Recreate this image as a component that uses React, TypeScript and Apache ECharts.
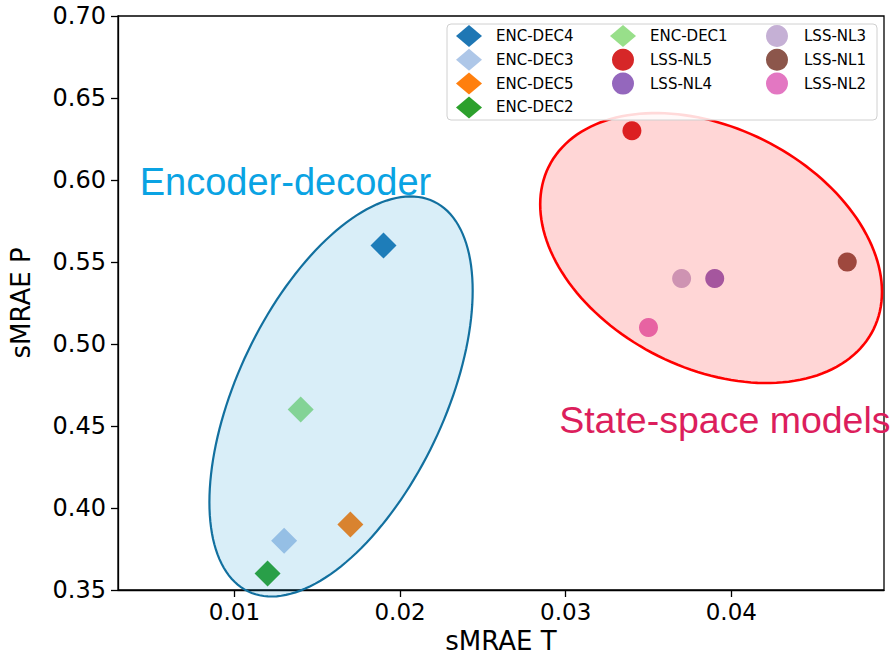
import React, { useEffect, useRef } from 'react';
import * as echarts from 'echarts';

// ---- data ----
const modelNames = ['ENC-DEC4', 'ENC-DEC3', 'ENC-DEC5', 'ENC-DEC2', 'ENC-DEC1', 'LSS-NL5', 'LSS-NL4', 'LSS-NL3', 'LSS-NL1', 'LSS-NL2'];
const smraeT = [0.019, 0.013, 0.017, 0.012, 0.014, 0.034, 0.039, 0.037, 0.047, 0.035];
const smraeP = [0.56, 0.38, 0.39, 0.36, 0.46, 0.63, 0.54, 0.54, 0.55, 0.51];
const modelFamily = ['enc', 'enc', 'enc', 'enc', 'enc', 'lss', 'lss', 'lss', 'lss', 'lss'];
const xTickValues = [0.01, 0.02, 0.03, 0.04];
const yTickValues = [0.35, 0.4, 0.45, 0.5, 0.55, 0.6, 0.65, 0.7];
const legendColumns = [
  ['ENC-DEC4', 'ENC-DEC3', 'ENC-DEC5', 'ENC-DEC2'],
  ['ENC-DEC1', 'LSS-NL5', 'LSS-NL4'],
  ['LSS-NL3', 'LSS-NL1', 'LSS-NL2'],
];

// ---- styles ----
const modelColors = ['#1f77b4', '#aec7e8', '#ff7f0e', '#2ca02c', '#98df8a', '#d62728', '#9467bd', '#c5b0d5', '#8c564b', '#e377c2'];
const familySymbol: Record<string, string> = { enc: 'diamond', lss: 'circle' };
const familySize: Record<string, number> = { enc: 26, lss: 19 };

// group regions (ellipse = centre + two conjugate semi-diameters, in data units)
const REGIONS = [
  { label: 'Encoder-decoder', cx: 0.016437, cy: 0.468, u: [0.007948, 0.06445], v: [0, 0.10354],
    fill: 'rgba(31,155,214,0.17)', stroke: '#12709f', lineWidth: 2.2,
    textAt: [0.00428, 0.5985], textColor: '#0aa3e3', fontSize: 38 },
  { label: 'State-space models', cx: 0.03878, cy: 0.5585, u: [0.010318, -0.026646], v: [0, 0.077866],
    fill: 'rgba(255,0,0,0.16)', stroke: '#ff0000', lineWidth: 2.6,
    textAt: [0.029605, 0.4535], textColor: '#dc1e5c', fontSize: 37.5 },
];

const FONT = 'DejaVu Sans';

export default function App() {
  const ref = useRef<HTMLDivElement>(null);

  useEffect(() => {
    if (!ref.current) return;
    const chart = echarts.init(ref.current, null, { renderer: 'svg' });

    const series: any[] = modelNames.map((name, i) => ({
      name,
      type: 'scatter',
      data: [[smraeT[i], smraeP[i]]],
      symbol: familySymbol[modelFamily[i]],
      symbolSize: familySize[modelFamily[i]],
      itemStyle: { color: modelColors[i], opacity: 1 },
      z: 2,
      silent: true,
    }));

    series.push({
      type: 'custom',
      name: 'regions',
      z: 3,
      clip: false,
      silent: true,
      data: REGIONS.map((r) => [r.cx, r.cy]),
      renderItem: (params: any, api: any) => {
        const r = REGIONS[params.dataIndex];
        const pts: number[][] = [];
        const n = 160;
        for (let k = 0; k < n; k++) {
          const t = (2 * Math.PI * k) / n;
          const c = Math.cos(t);
          const s = Math.sin(t);
          pts.push(api.coord([r.cx + r.u[0] * c + r.v[0] * s, r.cy + r.u[1] * c + r.v[1] * s]));
        }
        return {
          type: 'polygon',
          shape: { points: pts },
          style: { fill: r.fill, stroke: r.stroke, lineWidth: r.lineWidth },
        };
      },
    });

    const legendLeft = [456, 610, 766];

    const option: any = {
      animation: false,
      backgroundColor: '#ffffff',
      grid: {
        left: 113, right: 7, top: 16, bottom: 68,
        show: true, borderColor: '#000', borderWidth: 1.3, backgroundColor: 'transparent',
      },
      xAxis: {
        type: 'value',
        min: 0.00297,
        max: 0.04922,
        name: 'sMRAE T',
        nameLocation: 'middle',
        nameGap: 38,
        nameTextStyle: { fontFamily: FONT, fontSize: 26, color: '#000' },
        axisLine: { show: true, onZero: false, lineStyle: { color: '#000', width: 1.3 } },
        axisTick: { show: true, inside: false, length: 7, lineStyle: { color: '#000', width: 1.3 }, customValues: xTickValues },
        axisLabel: {
          customValues: xTickValues,
          formatter: (v: number) => v.toFixed(2),
          fontFamily: FONT, fontSize: 23, color: '#000', margin: 10,
        },
        splitLine: { show: false },
      },
      yAxis: {
        type: 'value',
        min: 0.35,
        max: 0.7,
        interval: 0.05,
        name: 'sMRAE P',
        nameLocation: 'middle',
        nameGap: 84,
        nameTextStyle: { fontFamily: FONT, fontSize: 26, color: '#000' },
        axisLine: { show: true, onZero: false, lineStyle: { color: '#000', width: 1.3 } },
        axisTick: { show: true, inside: false, length: 7, lineStyle: { color: '#000', width: 1.3 } },
        axisLabel: {
          formatter: (v: number) => {
            const hit = yTickValues.find((t) => Math.abs(t - v) < 1e-9);
            return (hit ?? v).toFixed(2);
          },
          fontFamily: FONT, fontSize: 24, color: '#000', margin: 12,
        },
        splitLine: { show: false },
      },
      legend: legendColumns.map((col, c) => ({
        data: col,
        orient: 'vertical',
        left: legendLeft[c],
        top: 25,
        itemWidth: 26,
        itemHeight: 22,
        itemGap: 1.8,
        padding: 0,
        selectedMode: false,
        z: 6,
        textStyle: { fontFamily: FONT, fontSize: 15, color: '#000', padding: [0, 0, 0, 9] },
      })),
      series,
    };

    chart.setOption(option);

    const texts = REGIONS.map((r, i) => {
      const p = chart.convertToPixel({ gridIndex: 0 }, r.textAt) as number[];
      return {
        type: 'text',
        id: 'ann' + i,
        x: p[0],
        y: p[1],
        z: 7,
        silent: true,
        style: {
          text: r.label,
          fill: r.textColor,
          fontFamily: 'Liberation Sans',
          fontSize: r.fontSize,
          align: 'left',
          verticalAlign: 'middle',
        },
      };
    });

    chart.setOption({
      graphic: [
        {
          type: 'rect',
          id: 'legendFrame',
          z: 5,
          silent: true,
          shape: { x: 447, y: 24, width: 430, height: 96, r: 4 },
          style: { fill: 'rgba(255,255,255,0.85)', stroke: '#d0d0d0', lineWidth: 1 },
        },
        ...texts,
      ],
    });

    return () => chart.dispose();
  }, []);

  return <div ref={ref} style={{ position: 'absolute', left: 0, top: 0, width: 891, height: 659 }} />;
}
